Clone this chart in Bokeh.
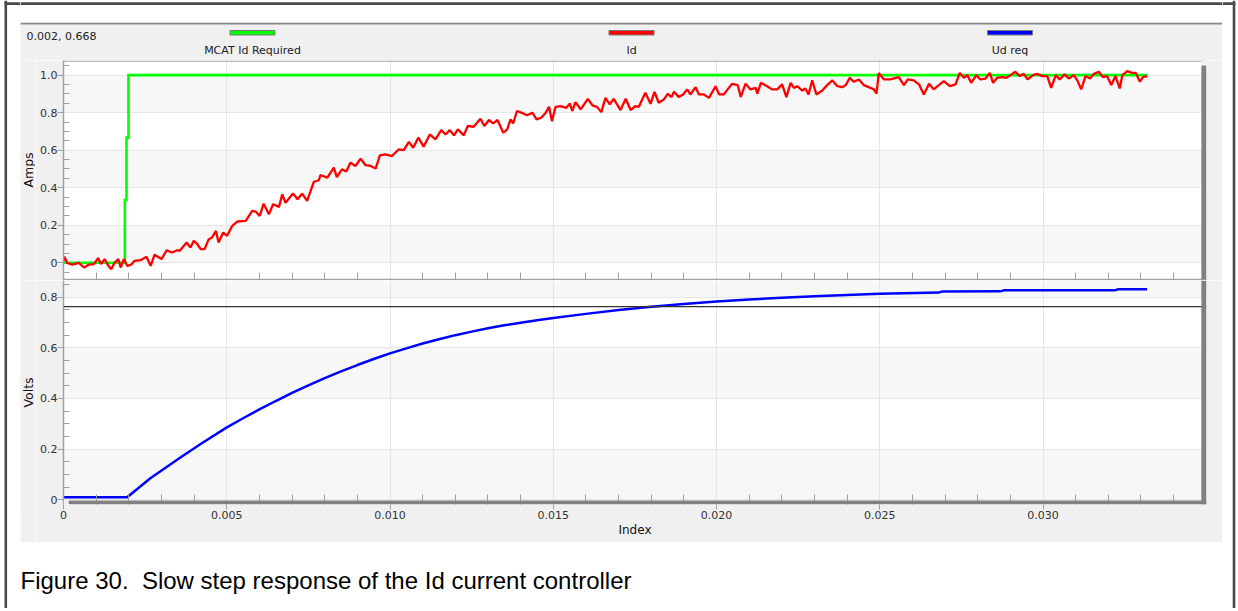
from bokeh.plotting import figure
from bokeh.models import Range1d, FixedTicker, BoxAnnotation, Span, Label
from bokeh.layouts import column, row
from bokeh.embed import file_html
from bokeh.resources import INLINE

# ---------------- data (time in ms) ----------------
SERIES_NAMES = ["MCAT Id Required", "Id", "Ud req"]
SERIES_COLORS = ["#00ff00", "#ff0000", "#0000ff"]
CURSOR_READOUT = "0.002, 0.668"
CAPTION = "Figure 30.\u00a0 Slow step response of the Id current controller"
X_TITLE = "Index"
AMPS_TITLE = "Amps"
VOLTS_TITLE = "Volts"

ID_REQ_T_MS = [0.0, 1.88, 1.88, 1.93, 1.93, 1.99, 1.99, 33.19]
ID_REQ_A = [0.0, 0.0, 0.335, 0.335, 0.667, 0.667, 1.0, 1.0]

ID_T_MS = [0.0, 0.03, 0.11, 0.27, 0.47, 0.63, 0.77, 0.93, 1.06, 1.15, 1.26, 1.36, 1.46, 1.56, 1.68,
           1.75, 1.85, 1.95, 2.07, 2.17, 2.36, 2.54, 2.67, 2.79, 2.89, 3.00, 3.16, 3.32, 3.48, 3.56,
           3.77, 3.89, 3.99, 4.10, 4.20, 4.32, 4.45, 4.55, 4.67, 4.75, 4.89, 5.01, 5.17, 5.32, 5.58,
           5.78, 5.88, 6.01, 6.13, 6.29, 6.42, 6.60, 6.70, 6.80, 7.03, 7.17, 7.31, 7.46, 7.67, 7.82,
           7.87, 8.08, 8.28, 8.37, 8.53, 8.66, 8.79, 8.94, 9.10, 9.25, 9.41, 9.56, 9.69, 9.86, 10.06,
           10.27, 10.42, 10.58, 10.71, 10.87, 11.03, 11.22, 11.39, 11.57, 11.70, 11.83, 11.96, 12.08,
           12.26, 12.38, 12.56, 12.77, 12.89, 13.03, 13.16, 13.29, 13.47, 13.59, 13.69, 13.77, 13.89,
           14.08, 14.20, 14.36, 14.49, 14.63, 14.77, 14.87, 14.96, 15.07, 15.22, 15.40, 15.51, 15.58,
           15.68, 15.84, 16.06, 16.20, 16.34, 16.47, 16.60, 16.73, 16.85, 17.06, 17.22, 17.37, 17.51,
           17.62, 17.82, 17.98, 18.10, 18.23, 18.39, 18.51, 18.62, 18.70, 18.84, 18.98, 19.10, 19.20,
           19.36, 19.46, 19.61, 19.77, 19.97, 20.08, 20.22, 20.34, 20.48, 20.65, 20.74, 20.89, 21.04,
           21.20, 21.25, 21.36, 21.55, 21.70, 21.86, 22.01, 22.14, 22.27, 22.37, 22.47, 22.63, 22.72,
           22.82, 22.93, 23.06, 23.24, 23.39, 23.55, 23.70, 23.85, 23.96, 24.08, 24.20, 24.36, 24.51,
           24.66, 24.82, 24.90, 24.97, 25.13, 25.32, 25.58, 25.74, 25.86, 26.04, 26.20, 26.35, 26.51,
           26.65, 26.81, 26.96, 27.15, 27.32, 27.45, 27.58, 27.68, 27.80, 27.96, 28.08, 28.24, 28.37,
           28.47, 28.60, 28.75, 28.88, 29.01, 29.15, 29.29, 29.41, 29.53, 29.70, 29.82, 29.98, 30.13,
           30.25, 30.39, 30.51, 30.66, 30.79, 30.94, 31.05, 31.17, 31.30, 31.44, 31.56, 31.71, 31.84,
           31.96, 32.09, 32.22, 32.35, 32.43, 32.58, 32.73, 32.84, 32.97, 33.06, 33.19]
ID_A = [0.010, 0.032, 0.000, -0.010, 0.000, -0.025, -0.010, -0.007, 0.025, -0.007, 0.020, -0.012,
        -0.034, 0.000, 0.020, -0.025, 0.020, -0.016, -0.010, 0.010, 0.014, 0.032, -0.016, 0.043,
        0.032, 0.020, 0.067, 0.055, 0.067, 0.064, 0.108, 0.081, 0.117, 0.100, 0.073, 0.073, 0.126,
        0.135, 0.170, 0.108, 0.161, 0.144, 0.197, 0.220, 0.223, 0.277, 0.273, 0.250, 0.315, 0.259,
        0.312, 0.298, 0.365, 0.320, 0.369, 0.339, 0.369, 0.330, 0.432, 0.440, 0.468, 0.454, 0.507,
        0.457, 0.498, 0.486, 0.534, 0.516, 0.555, 0.520, 0.516, 0.502, 0.573, 0.578, 0.569, 0.605,
        0.601, 0.644, 0.613, 0.667, 0.619, 0.684, 0.658, 0.707, 0.684, 0.707, 0.679, 0.711, 0.679,
        0.729, 0.725, 0.768, 0.729, 0.761, 0.743, 0.761, 0.693, 0.711, 0.764, 0.743, 0.809, 0.796,
        0.786, 0.800, 0.764, 0.773, 0.800, 0.831, 0.755, 0.831, 0.835, 0.826, 0.849, 0.809, 0.856,
        0.818, 0.874, 0.839, 0.831, 0.803, 0.879, 0.844, 0.874, 0.814, 0.874, 0.814, 0.835, 0.831,
        0.906, 0.847, 0.911, 0.853, 0.871, 0.901, 0.883, 0.911, 0.883, 0.897, 0.924, 0.897, 0.936,
        0.897, 0.897, 0.879, 0.941, 0.897, 0.897, 0.924, 0.954, 0.947, 0.883, 0.954, 0.924, 0.932,
        0.901, 0.959, 0.941, 0.924, 0.924, 0.951, 0.883, 0.959, 0.932, 0.941, 0.918, 0.929, 0.897,
        0.972, 0.897, 0.918, 0.947, 0.972, 0.941, 0.936, 0.947, 0.986, 0.965, 0.977, 0.947, 0.936,
        0.924, 0.901, 1.011, 0.977, 0.977, 0.989, 0.947, 0.977, 0.972, 0.951, 0.897, 0.954, 0.924,
        0.947, 0.968, 0.941, 0.951, 1.012, 0.986, 1.000, 0.959, 1.000, 0.977, 0.982, 1.012, 0.959,
        0.986, 0.989, 0.986, 1.000, 1.018, 0.995, 1.007, 0.977, 1.000, 1.007, 0.995, 0.995, 0.932,
        1.000, 0.977, 1.004, 0.982, 1.000, 0.972, 0.924, 0.995, 0.982, 1.007, 1.018, 0.989, 0.995,
        0.947, 0.995, 0.929, 1.000, 1.021, 1.012, 1.012, 0.965, 0.989, 0.995]

UD_T_MS = [0.0, 1.95, 2.66, 3.58, 4.20, 4.99, 5.5, 6.0, 6.5, 7.0, 7.5, 8.0, 8.5, 9.0, 9.5, 10.0,
           10.5, 11.0, 11.5, 12.0, 12.5, 13.0, 13.5, 14.0, 14.5, 15.0, 16.0, 17.0, 18.0, 19.0,
           20.0, 21.0, 22.0, 23.0, 24.0, 25.0, 26.8, 26.9, 28.7, 28.8, 32.2, 32.3, 33.19]
UD_V = [0.010, 0.010, 0.085, 0.167, 0.220, 0.285, 0.322, 0.357, 0.390, 0.422, 0.452, 0.480,
        0.507, 0.532, 0.556, 0.578, 0.598, 0.617, 0.634, 0.650, 0.664, 0.677, 0.689, 0.699,
        0.709, 0.718, 0.734, 0.749, 0.762, 0.773, 0.783, 0.791, 0.798, 0.804, 0.809, 0.813,
        0.818, 0.822, 0.823, 0.827, 0.827, 0.831, 0.831]

CURSOR_V = 0.763
CURSOR_CROSS_T_MS = [17.75, 18.2]

AMPS_TICKS = [0, 0.2, 0.4, 0.6, 0.8, 1.0]
AMPS_LABELS = ["0", "0.2", "0.4", "0.6", "0.8", "1.0"]
VOLTS_TICKS = [0, 0.2, 0.4, 0.6, 0.8]
VOLTS_LABELS = ["0", "0.2", "0.4", "0.6", "0.8"]
INDEX_TICKS = [0, 0.005, 0.01, 0.015, 0.02, 0.025, 0.03]
INDEX_LABELS = ["0", "0.005", "0.010", "0.015", "0.020", "0.025", "0.030"]

AMPS_MINOR = [round(k * 0.05, 2) for k in range(-1, 22) if k % 4]
VOLTS_MINOR = [round(k * 0.05, 2) for k in range(0, 18) if k % 4]
INDEX_MINOR = [k / 1000 for k in range(1, 35) if k % 5]

# ---------------- styling / layout constants ----------------
PANEL = "#f0f0f0"
SHADOW = "#808080"
FRAME_DARK = "#4a4a4a"
AXIS_GRAY = "#a0a0a0"
GRID = "#e6e6e6"
BAND = "#f7f7f7"
TICK_FONT = "DejaVu Sans"

Y_A = (-0.089, 1.078)
Y_V = (-0.0186, 0.8658)
X_END = 0.035007
X_WHITE_END = 0.03485
SHADOW_X0 = 0.000153
A_SHADOW_TOP = 1.051
V_WHITE_BOTTOM = -0.003

TOTAL_H = 608
TITLE_W = 15


def ms(ts):
    return [t / 1000.0 for t in ts]


def blank(width, height, xr, yr, fill):
    p = figure(width=width, height=height, x_range=Range1d(*xr), y_range=Range1d(*yr),
               output_backend="svg", toolbar_location=None, x_axis_type=None, y_axis_type=None,
               min_border=0, outline_line_color=None,
               background_fill_color=fill, border_fill_color=fill)
    return p


def base_plot(height, yr, min_bottom):
    p = figure(width=1202 - TITLE_W, height=height, x_range=Range1d(0, X_END),
               y_range=Range1d(*yr), output_backend="svg", toolbar_location=None,
               min_border_left=43 - TITLE_W, min_border_right=16, min_border_top=0,
               min_border_bottom=min_bottom,
               background_fill_color="white", border_fill_color=PANEL,
               outline_line_color=None)
    p.xgrid.ticker = FixedTicker(ticks=INDEX_TICKS)
    p.xgrid.grid_line_color = GRID
    p.ygrid.grid_line_color = GRID
    return p


def style_y(p, ticks, labels, minor):
    p.ygrid.ticker = FixedTicker(ticks=ticks)
    ax = p.yaxis[0]
    ax.ticker = FixedTicker(ticks=ticks, minor_ticks=minor)
    ax.major_label_overrides = dict(zip(ticks, labels))
    ax.major_tick_in = 0
    ax.major_tick_out = 6
    ax.minor_tick_in = 6
    ax.minor_tick_out = 0
    ax.axis_line_color = AXIS_GRAY
    ax.axis_line_width = 1.5
    ax.major_tick_line_color = AXIS_GRAY
    ax.minor_tick_line_color = AXIS_GRAY
    ax.major_label_text_font = TICK_FONT
    ax.major_label_text_font_size = "11px"
    ax.major_label_text_color = "#333333"
    ax.major_label_standoff = 0
    for k in range(0, len(ticks), 2):
        p.add_layout(BoxAnnotation(bottom=ticks[k], top=ticks[k] + 0.2, fill_color=BAND,
                                   fill_alpha=1, line_color=None, level="image"))


def side_title(text, height, bottom_border):
    f = figure(width=TITLE_W, height=height, x_range=Range1d(0, TITLE_W), y_range=Range1d(-1, 1),
               output_backend="svg", toolbar_location=None, x_axis_type=None, y_axis_type=None,
               min_border_left=0, min_border_right=0, min_border_top=0,
               min_border_bottom=bottom_border, outline_line_color=None,
               background_fill_color=PANEL, border_fill_color=PANEL)
    f.add_layout(Label(x=TITLE_W / 2, y=0, text=text, angle=90, angle_units="deg",
                       text_font=TICK_FONT, text_font_size="12.5px", text_color="#111111",
                       text_align="center", text_baseline="middle"))
    return f


# ---------------- outer frame strips ----------------
left = blank(20, TOTAL_H, (0, 20), (TOTAL_H, 0), "white")
left.add_layout(Span(location=5.3, dimension="height", line_color=FRAME_DARK, line_width=2.6))
left.segment(x0=[4], y0=[3.2], x1=[20], y1=[3.2], line_color=FRAME_DARK, line_width=2.8)

right = blank(14, TOTAL_H, (0, 14), (TOTAL_H, 0), "white")
right.add_layout(Span(location=11.5, dimension="height", line_color=FRAME_DARK, line_width=2.6))
right.segment(x0=[0], y0=[3.2], x1=[12.8], y1=[3.2], line_color=FRAME_DARK, line_width=2.8)

top_strip = blank(1202, 22, (0, 1202), (22, 0), "white")
top_strip.add_layout(Span(location=3.2, dimension="width", line_color=FRAME_DARK, line_width=2.8))

# ---------------- header (cursor readout + legend) ----------------
header = blank(1202, 38, (0, 1202), (38, 0), PANEL)
header.add_layout(Span(location=1, dimension="width", line_color="#8a8a8a", line_width=2))
header.add_layout(Label(x=6, y=14, text=CURSOR_READOUT, text_font=TICK_FONT,
                        text_font_size="11px", text_color="#222222", text_baseline="middle"))
LEGEND_CX = [232, 611, 989.5]
header.quad(left=[c - 22.5 for c in LEGEND_CX], right=[c + 22.5 for c in LEGEND_CX],
            top=[8] * 3, bottom=[12.5] * 3, fill_color=SERIES_COLORS,
            line_color="#7a7a7a", line_width=1)
for cx, name in zip(LEGEND_CX, SERIES_NAMES):
    header.add_layout(Label(x=cx, y=28, text=name, text_font=TICK_FONT, text_font_size="11px",
                            text_color="#222222", text_align="center", text_baseline="middle"))

# ---------------- top plot: currents ----------------
top = base_plot(220, Y_A, 1)
style_y(top, AMPS_TICKS, AMPS_LABELS, AMPS_MINOR)
tx = top.xaxis[0]
tx.ticker = FixedTicker(ticks=[], minor_ticks=INDEX_MINOR)
tx.major_tick_in = 0
tx.major_tick_out = 0
tx.minor_tick_in = 7
tx.minor_tick_out = 0
tx.major_label_standoff = 0
tx.axis_line_color = AXIS_GRAY
tx.axis_line_width = 1.5
tx.minor_tick_line_color = AXIS_GRAY

top.line(ms(ID_REQ_T_MS), ID_REQ_A, line_color=SERIES_COLORS[0], line_width=2.6,
         line_join="miter")
top.line(ms(ID_T_MS), ID_A, line_color=SERIES_COLORS[1], line_width=2.3)
top.add_layout(Span(location=1.075, dimension="width", line_color=AXIS_GRAY, line_width=1.2))
top.add_layout(BoxAnnotation(left=X_WHITE_END, bottom=A_SHADOW_TOP, fill_color=PANEL,
                             fill_alpha=1, line_color=None, level="overlay"))
top.add_layout(BoxAnnotation(left=X_WHITE_END, top=A_SHADOW_TOP, fill_color=SHADOW,
                             fill_alpha=1, line_color=None, level="overlay"))

# ---------------- bottom plot: voltage ----------------
bot = base_plot(262, Y_V, 38)
style_y(bot, VOLTS_TICKS, VOLTS_LABELS, VOLTS_MINOR)
bx = bot.xaxis[0]
bx.ticker = FixedTicker(ticks=INDEX_TICKS, minor_ticks=INDEX_MINOR)
bx.major_label_overrides = dict(zip(INDEX_TICKS, INDEX_LABELS))
bx.axis_line_color = None
bx.major_tick_in = 0
bx.major_tick_out = 5
bx.minor_tick_in = 10
bx.minor_tick_out = 0
bx.major_tick_line_color = AXIS_GRAY
bx.minor_tick_line_color = AXIS_GRAY
bx.major_label_text_font = TICK_FONT
bx.major_label_text_font_size = "11px"
bx.major_label_text_color = "#333333"
bx.major_label_standoff = 1
bx.axis_label = X_TITLE
bx.axis_label_text_font = TICK_FONT
bx.axis_label_text_font_size = "12px"
bx.axis_label_text_font_style = "normal"
bx.axis_label_text_color = "#111111"
bx.axis_label_standoff = 1

bot.add_layout(Span(location=CURSOR_V, dimension="width", line_color="#333333", line_width=1.3))
bot.line(ms(CURSOR_CROSS_T_MS), [CURSOR_V] * 2, line_color="#d8d800", line_width=1.5)
bot.line(ms(UD_T_MS), UD_V, line_color=SERIES_COLORS[2], line_width=2.5)
bot.add_layout(BoxAnnotation(left=X_WHITE_END, fill_color=SHADOW, fill_alpha=1,
                             line_color=None, level="overlay"))
bot.add_layout(BoxAnnotation(left=SHADOW_X0, top=V_WHITE_BOTTOM, fill_color=SHADOW,
                             fill_alpha=1, line_color=None, level="overlay"))
bot.add_layout(BoxAnnotation(right=SHADOW_X0, top=V_WHITE_BOTTOM, fill_color=PANEL,
                             fill_alpha=1, line_color=None, level="overlay"))

# ---------------- caption ----------------
cap = blank(1202, 66, (0, 1202), (66, 0), "white")
cap.add_layout(Label(x=0, y=38, text=CAPTION, text_font="Liberation Sans",
                     text_font_size="24px", text_color="#000000", text_baseline="alphabetic"))

plots = column(row(side_title(AMPS_TITLE, 220, 1), top),
               row(side_title(VOLTS_TITLE, 262, 38), bot))
middle = column(top_strip, header, plots, cap)
layout = row(left, middle, right)

open("out.html", "w").write(file_html(layout, INLINE))
